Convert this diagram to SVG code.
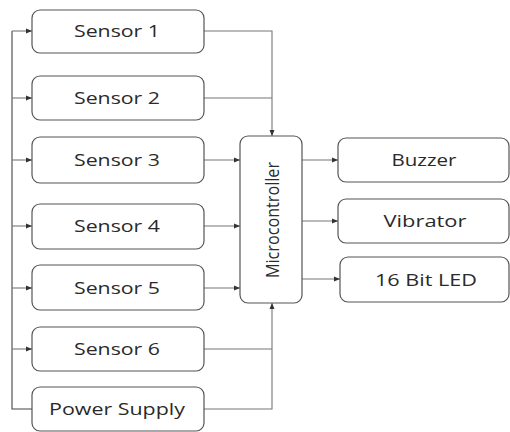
<svg xmlns="http://www.w3.org/2000/svg" width="510" height="432" viewBox="0 0 510 432">
<style>
.box{fill:#fff;stroke:#555;stroke-width:1.2}
.lbl{font-family:"Open Sans","Liberation Sans",sans-serif;font-size:17px;fill:#2a2a2a;text-anchor:middle;dominant-baseline:central}
.ln{fill:none;stroke:#777;stroke-width:1.1}
.ar{fill:none;stroke:#777;stroke-width:1.1;marker-end:url(#ah)}
</style>
<defs>
<marker id="ah" viewBox="0 0 6 6" refX="6" refY="3" markerWidth="6" markerHeight="6" markerUnits="userSpaceOnUse" orient="auto">
<path d="M0,0.5 L6,3 L0,5.5 Z" fill="#333"/>
</marker>
</defs>
<rect width="510" height="432" fill="#fff"/>
<g id="connectors">
<path class="ln" style="stroke:#444" d="M12,31 V409 H32"/>
<path class="ar" d="M12,31 H32"/>
<path class="ar" d="M12,98 H32"/>
<path class="ar" d="M12,160 H32"/>
<path class="ar" d="M12,226 H32"/>
<path class="ar" d="M12,288 H32"/>
<path class="ar" d="M12,349 H32"/>
<path class="ar" d="M204,31 H272 V136"/>
<path class="ln" d="M204,98 H272"/>
<path class="ar" d="M204,160 H240"/>
<path class="ar" d="M204,226 H240"/>
<path class="ar" d="M204,288 H240"/>
<path class="ar" d="M204,409 H272 V303"/>
<path class="ln" d="M204,349 H272"/>
<path class="ar" d="M302,160 H338"/>
<path class="ar" d="M302,221 H338"/>
<path class="ar" d="M302,279 H340"/>
</g>
<g id="sensor1"><rect class="box" x="32" y="10" width="172" height="43" rx="8"/><text class="lbl" x="117" y="30.5" textLength="86" lengthAdjust="spacingAndGlyphs">Sensor 1</text></g>
<g id="sensor2"><rect class="box" x="32" y="76" width="172" height="44" rx="8"/><text class="lbl" x="117" y="97.5" textLength="86" lengthAdjust="spacingAndGlyphs">Sensor 2</text></g>
<g id="sensor3"><rect class="box" x="32" y="137" width="172" height="46" rx="8"/><text class="lbl" x="117" y="159.5" textLength="86" lengthAdjust="spacingAndGlyphs">Sensor 3</text></g>
<g id="sensor4"><rect class="box" x="32" y="204" width="172" height="45" rx="8"/><text class="lbl" x="117" y="225.5" textLength="86" lengthAdjust="spacingAndGlyphs">Sensor 4</text></g>
<g id="sensor5"><rect class="box" x="32" y="265" width="172" height="45" rx="8"/><text class="lbl" x="117" y="287.5" textLength="86" lengthAdjust="spacingAndGlyphs">Sensor 5</text></g>
<g id="sensor6"><rect class="box" x="32" y="327" width="172" height="44" rx="8"/><text class="lbl" x="117" y="348.5" textLength="86" lengthAdjust="spacingAndGlyphs">Sensor 6</text></g>
<g id="power"><rect class="box" x="32" y="387" width="172" height="44" rx="8"/><text class="lbl" x="117" y="408.5" textLength="136" lengthAdjust="spacingAndGlyphs">Power Supply</text></g>
<g id="micro"><rect class="box" x="240" y="136" width="62" height="167" rx="8"/><text class="lbl" style="font-size:19px" x="0" y="0" transform="translate(272,220) rotate(-90)" textLength="116" lengthAdjust="spacingAndGlyphs">Microcontroller</text></g>
<g id="buzzer"><rect class="box" x="338" y="138" width="171" height="44" rx="8"/><text class="lbl" x="424" y="159.5" textLength="65" lengthAdjust="spacingAndGlyphs">Buzzer</text></g>
<g id="vibrator"><rect class="box" x="338" y="199" width="171" height="44" rx="8"/><text class="lbl" x="425" y="220.5" textLength="83" lengthAdjust="spacingAndGlyphs">Vibrator</text></g>
<g id="led"><rect class="box" x="340" y="257" width="169" height="45" rx="8"/><text class="lbl" x="426" y="279.5" textLength="102" lengthAdjust="spacingAndGlyphs">16 Bit LED</text></g>
</svg>
